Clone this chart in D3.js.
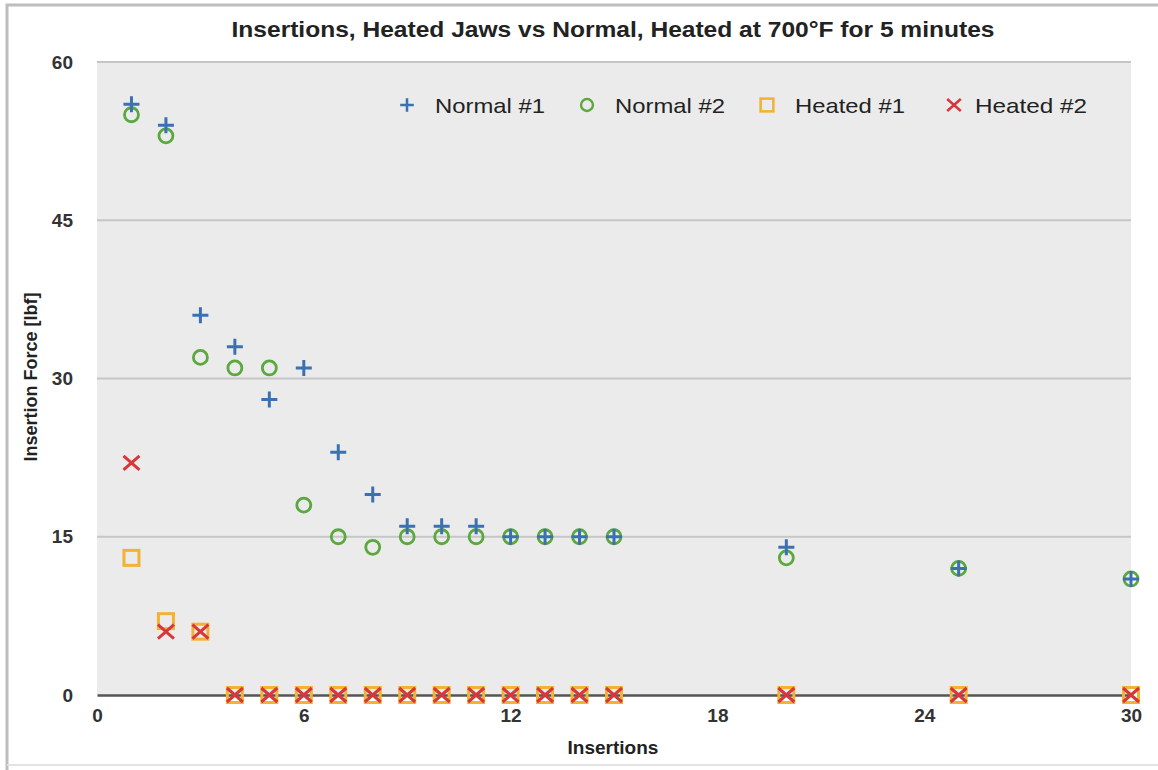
<!DOCTYPE html>
<html>
<head>
<meta charset="utf-8">
<script src="https://cdn.jsdelivr.net/npm/d3@7"></script>
<style>
  body { margin: 0; background: #fff; }
  svg text { font-family: "Liberation Sans", Arial, sans-serif; }
</style>
</head>
<body>
<div id="chart"></div>
<script>
// insertion counts (x) and forces (y) for each sample
var insertions = [1, 2, 3, 4, 5, 6, 7, 8, 9, 10, 11, 12, 13, 14, 15, 20, 25, 30];
var normal1 = [56, 54, 36, 33, 28, 31, 23, 19, 16, 16, 16, 15, 15, 15, 15, 14, 12, 11];
var normal2 = [55, 53, 32, 31, 31, 18, 15, 14, 15, 15, 15, 15, 15, 15, 15, 13, 12, 11];
var heated1 = [13, 7, 6, 0, 0, 0, 0, 0, 0, 0, 0, 0, 0, 0, 0, 0, 0, 0];
var heated2 = [22, 6, 6, 0, 0, 0, 0, 0, 0, 0, 0, 0, 0, 0, 0, 0, 0, 0];
var xTicks = [0, 6, 12, 18, 24, 30];
var yTicks = [0, 15, 30, 45, 60];
var seriesNames = ["Normal #1", "Normal #2", "Heated #1", "Heated #2"];

var W = 1158, H = 770;
var svg = d3.select("#chart").append("svg").attr("width", W).attr("height", H);

// frame around the figure
svg.append("path")
  .attr("d", "M7,770 L7,5 L1158,5")
  .attr("fill", "none").attr("stroke", "#bdbdbd").attr("stroke-width", 3);
svg.append("line")
  .attr("x1", 7).attr("x2", 1158).attr("y1", 765).attr("y2", 765)
  .attr("stroke", "#e2e2e2").attr("stroke-width", 2);

var pLeft = 97, pRight = 1131, pTop = 62, pBottom = 695;
var x = d3.scaleLinear().domain([0, 30]).range([pLeft, pRight]);
var y = d3.scaleLinear().domain([0, 60]).range([pBottom, pTop]);

// plot background
svg.append("rect")
  .attr("x", pLeft).attr("y", pTop)
  .attr("width", pRight - pLeft).attr("height", pBottom - pTop)
  .attr("fill", "#ebebeb");

// horizontal grid
svg.selectAll("line.grid")
  .data(yTicks.filter(function (d) { return d > 0; }))
  .enter().append("line")
  .attr("class", "grid")
  .attr("x1", pLeft).attr("x2", pRight)
  .attr("y1", function (d) { return y(d); })
  .attr("y2", function (d) { return y(d); })
  .attr("stroke", "#c6c6c6").attr("stroke-width", 2);

// y axis labels
var yAxis = d3.axisLeft(y).tickValues(yTicks).tickSize(0).tickPadding(24);
var gy = svg.append("g").attr("transform", "translate(" + pLeft + ",0)").call(yAxis);
gy.select(".domain").remove();
gy.selectAll("text")
  .style("font-size", "19px").style("font-weight", "bold").attr("fill", "#333");

// x axis
var xAxis = d3.axisBottom(x).tickValues(xTicks).tickSize(0).tickPadding(14);
var gx = svg.append("g").attr("transform", "translate(0," + pBottom + ")").call(xAxis);
gx.select(".domain").attr("stroke", "#555").attr("stroke-width", 2.5);
gx.selectAll("text")
  .style("font-size", "19px").style("font-weight", "bold").attr("fill", "#333");

// titles
svg.append("text")
  .attr("x", 613).attr("y", 37)
  .attr("text-anchor", "middle")
  .attr("textLength", 763).attr("lengthAdjust", "spacingAndGlyphs")
  .style("font-size", "22px").style("font-weight", "bold").attr("fill", "#222")
  .text("Insertions, Heated Jaws vs Normal, Heated at 700°F for 5 minutes");

svg.append("text")
  .attr("x", 613).attr("y", 754)
  .attr("text-anchor", "middle")
  .style("font-size", "19px").style("font-weight", "bold").attr("fill", "#222")
  .text("Insertions");

svg.append("text")
  .attr("transform", "translate(37,377) rotate(-90)")
  .attr("text-anchor", "middle")
  .style("font-size", "18px").style("font-weight", "bold").attr("fill", "#222")
  .text("Insertion Force [lbf]");

var colors = { n1: "#3b70b3", n2: "#5ba83f", h1: "#f2b234", h2: "#d8363a" };

function plus(g, c) {
  g.append("path").attr("d", "M-8,0 H8 M0,-8 V8")
    .attr("stroke", c).attr("stroke-width", 3).attr("fill", "none");
}
function circle(g, c) {
  g.append("circle").attr("r", 7)
    .attr("stroke", c).attr("stroke-width", 2.8).attr("fill", "none");
}
function square(g, c) {
  g.append("rect").attr("x", -7.5).attr("y", -7.5).attr("width", 15).attr("height", 15)
    .attr("stroke", c).attr("stroke-width", 3).attr("fill", "none");
}
function cross(g, c) {
  g.append("path").attr("d", "M-8,-7 L8,7 M-8,7 L8,-7")
    .attr("stroke", c).attr("stroke-width", 3).attr("fill", "none");
}

function drawSeries(values, marker, color) {
  svg.append("g").selectAll("g")
    .data(values.map(function (v, i) { return [insertions[i], v]; }))
    .enter().append("g")
    .attr("transform", function (d) { return "translate(" + x(d[0]) + "," + y(d[1]) + ")"; })
    .each(function () { marker(d3.select(this), color); });
}

drawSeries(normal2, circle, colors.n2);
drawSeries(normal1, plus, colors.n1);
drawSeries(heated1, square, colors.h1);
drawSeries(heated2, cross, colors.h2);

// legend
var legend = [
  { name: seriesNames[0], marker: plus, color: colors.n1, mx: 407, tx: 435, w: 110 },
  { name: seriesNames[1], marker: circle, color: colors.n2, mx: 587, tx: 615, w: 110 },
  { name: seriesNames[2], marker: square, color: colors.h1, mx: 767, tx: 795, w: 110 },
  { name: seriesNames[3], marker: cross, color: colors.h2, mx: 954, tx: 975, w: 112 }
];
legend.forEach(function (l) {
  var g = svg.append("g").attr("transform", "translate(" + l.mx + ",105) scale(0.85)");
  l.marker(g, l.color);
  svg.append("text")
    .attr("x", l.tx).attr("y", 113)
    .attr("textLength", l.w).attr("lengthAdjust", "spacingAndGlyphs")
    .style("font-size", "21px").attr("fill", "#222")
    .text(l.name);
});
</script>
</body>
</html>
